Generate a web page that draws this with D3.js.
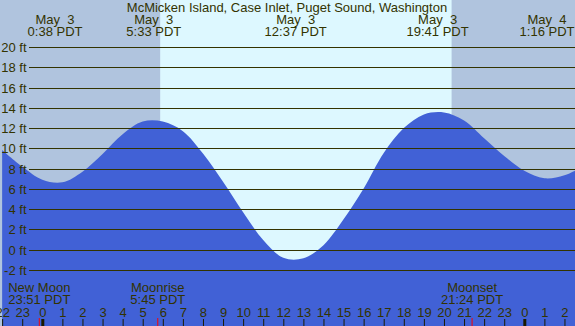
<!DOCTYPE html>
<html>
<head>
<meta charset="utf-8">
<script src="https://cdn.jsdelivr.net/npm/d3@7"></script>
<style>
  body { margin: 0; padding: 0; overflow: hidden; }
  svg { display: block; font-family: "Liberation Sans", Arial, sans-serif; }
  text { white-space: pre; }
</style>
</head>
<body>
<div id="chart"></div>
<script>
/* global d3 */

// hours counted from May 3 0:00 PDT, heights in ft
var tideHours = [-2, -1, 0, 1, 2, 3, 4, 5, 6, 7, 8, 9, 10, 11, 12, 13, 14,
    15, 16, 17, 18, 19, 20, 21, 22, 23, 24, 25, 26, 27];
var tideFeet = [9.85, 8.2, 6.9, 6.65, 7.7, 9.45, 11.4, 12.65, 12.65, 11.7, 9.5,
    6.7, 3.7, 0.95, -0.8, -0.85, 0.45, 3.0, 6.05, 9.55, 12.0, 13.35, 13.55,
    12.75, 11.0, 9.25, 7.8, 7.05, 7.35, 8.3];

// high / low tide labels along the top
var extremeHours = [0.633, 5.55, 12.617, 19.683, 25.267];
var extremeDates = ["May  3", "May  3", "May  3", "May  3", "May  4"];
var extremeTimes = ["0:38 PDT", "5:33 PDT", "12:37 PDT", "19:41 PDT", "1:16 PDT"];

// moon events along the bottom
var moonHours = [-0.15, 5.75, 21.4];
var moonNames = ["New Moon", "Moonrise", "Moonset"];
var moonTimes = ["23:51 PDT", "5:45 PDT", "21:24 PDT"];

var sunriseHour = 5.87,
    sunsetHour = 20.38;

var feetTicks = [-2, 0, 2, 4, 6, 8, 10, 12, 14, 16, 18, 20];
var hourTicks = d3.range(-2, 27);

var title = "McMicken Island, Case Inlet, Puget Sound, Washington";

var width = 575,
    height = 326,
    fontSize = 13,
    ink = "#333300";

var x = d3.scaleLinear().domain([0, 24]).range([42.3, 524.3]);
var y = d3.scaleLinear().domain([-2, 20]).range([270, 47]);

var svg = d3.select("#chart").append("svg")
    .attr("width", width)
    .attr("height", height);

// night / day background
svg.append("rect")
    .attr("width", width)
    .attr("height", height)
    .attr("fill", "#b0c4de");
svg.append("rect")
    .attr("x", x(sunriseHour))
    .attr("width", x(sunsetHour) - x(sunriseHour))
    .attr("height", height)
    .attr("fill", "#ddf8ff");

// water
var area = d3.area()
    .x(function(d, i) { return x(tideHours[i]); })
    .y0(height)
    .y1(function(d) { return y(d); })
    .curve(d3.curveCatmullRom);

svg.append("path")
    .datum(tideFeet)
    .attr("fill", "#4161d6")
    .attr("d", area);

// feet grid
var yAxis = svg.append("g")
    .attr("transform", "translate(29,0)")
    .call(d3.axisLeft(y)
        .tickValues(feetTicks)
        .tickSize(-(width - 29))
        .tickPadding(2.5)
        .tickFormat(function(d) { return d + " ft"; }));
yAxis.select(".domain").remove();
yAxis.selectAll(".tick")
    .attr("transform", function(d) { return "translate(0," + (Math.round(y(d)) + 0.5) + ")"; });
yAxis.selectAll(".tick line").attr("stroke", ink);
yAxis.selectAll(".tick text")
    .attr("fill", ink)
    .attr("font-size", fontSize)
    .attr("font-family", null);

// hour ticks
var xAxis = svg.append("g")
    .attr("transform", "translate(0," + height + ")")
    .call(d3.axisTop(x)
        .tickValues(hourTicks)
        .tickSize(7)
        .tickPadding(2.5)
        .tickFormat(function(d) { return (d + 24) % 24; }));
xAxis.select(".domain").remove();
xAxis.selectAll(".tick line")
    .attr("stroke", "#1a1a00")
    .attr("stroke-width", function(d) { return d % 24 === 0 ? 3 : 1; });
xAxis.selectAll(".tick text")
    .attr("fill", ink)
    .attr("font-size", fontSize)
    .attr("font-family", null);

// moon event ticks
svg.selectAll(".moon-tick")
    .data(moonHours)
    .enter().append("line")
    .attr("class", "moon-tick")
    .attr("x1", function(d) { return x(d); })
    .attr("x2", function(d) { return x(d); })
    .attr("y1", height - 8)
    .attr("y2", height)
    .attr("stroke", "red");

// title
svg.append("text")
    .attr("x", 287)
    .attr("y", 12)
    .attr("text-anchor", "middle")
    .attr("fill", ink)
    .attr("font-size", fontSize)
    .text(title);

// keep a label group inside the right edge
function clampGroup(g, d) {
    var w = 0;
    d3.select(g).selectAll("text").each(function() {
        w = Math.max(w, this.getComputedTextLength());
    });
    var cx = Math.min(x(d), width - w / 2 - 0.5);
    d3.select(g).attr("transform", "translate(" + cx + ",0)");
}

// tide extreme labels
var extremeGroup = svg.selectAll(".extreme")
    .data(extremeHours)
    .enter().append("g")
    .attr("class", "extreme");
extremeGroup.append("text")
    .attr("y", 24)
    .attr("text-anchor", "middle")
    .attr("fill", ink)
    .attr("font-size", fontSize)
    .text(function(d, i) { return extremeDates[i]; });
extremeGroup.append("text")
    .attr("y", 35.5)
    .attr("text-anchor", "middle")
    .attr("fill", ink)
    .attr("font-size", fontSize)
    .text(function(d, i) { return extremeTimes[i]; });
extremeGroup.each(function(d) { clampGroup(this, d); });

// moon labels
var moonGroup = svg.selectAll(".moon")
    .data(moonHours)
    .enter().append("g")
    .attr("class", "moon");
moonGroup.append("text")
    .attr("y", 291.5)
    .attr("text-anchor", "middle")
    .attr("fill", ink)
    .attr("font-size", fontSize)
    .text(function(d, i) { return moonNames[i]; });
moonGroup.append("text")
    .attr("y", 303.5)
    .attr("text-anchor", "middle")
    .attr("fill", ink)
    .attr("font-size", fontSize)
    .text(function(d, i) { return moonTimes[i]; });
moonGroup.each(function(d) { clampGroup(this, d); });
</script>
</body>
</html>
